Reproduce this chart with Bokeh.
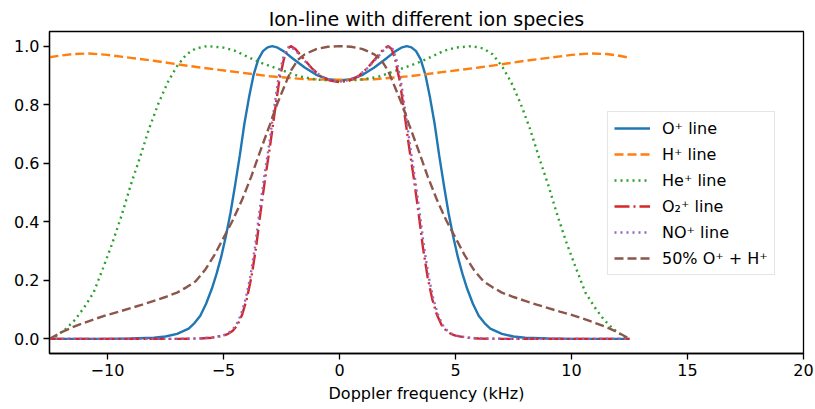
from bokeh.plotting import figure
from bokeh.models import Range1d, FixedTicker, PrintfTickFormatter, CustomJSTickFormatter
from bokeh.embed import file_html
from bokeh.resources import INLINE

# ---- data (Doppler frequency in kHz, normalised power) ----
o_freq = [-12.5, -10.0, -9.0, -8.0, -7.5, -7.0, -6.5, -6.25, -6.0, -5.75, -5.5, -5.3, -5.1, -4.9, -4.7,
          -4.5, -4.3, -4.1, -3.9, -3.7, -3.5, -3.3, -3.1, -2.9, -2.7, -2.4, -2.0, -1.5, -1.0, -0.5,
          0.0,
          0.5, 1.0, 1.5, 2.0, 2.4, 2.7, 2.9, 3.1, 3.3, 3.5, 3.7, 3.9, 4.1, 4.3, 4.5,
          4.7, 4.9, 5.1, 5.3, 5.5, 5.75, 6.0, 6.25, 6.5, 7.0, 7.5, 8.0, 9.0, 10.0, 12.5]
o_vals = [0.0, 0.0, 0.001, 0.004, 0.008, 0.017, 0.035, 0.054, 0.079, 0.12, 0.172, 0.222, 0.28, 0.35, 0.43,
          0.525, 0.625, 0.735, 0.825, 0.903, 0.955, 0.983, 0.996, 1.0, 0.996, 0.982, 0.957, 0.927, 0.902, 0.887,
          0.883,
          0.887, 0.902, 0.927, 0.957, 0.982, 0.996, 1.0, 0.996, 0.983, 0.955, 0.903, 0.825, 0.735, 0.625, 0.525,
          0.43, 0.35, 0.28, 0.222, 0.172, 0.12, 0.079, 0.054, 0.035, 0.017, 0.008, 0.004, 0.001, 0.0, 0.0]

h_freq = [-12.5, -12.0, -11.5, -10.8, -10.0, -9.0, -8.0, -7.0, -6.0, -4.5, -3.0, -1.5,
          0.0,
          1.5, 3.0, 4.5, 6.0, 7.0, 8.0, 9.0, 10.0, 10.8, 11.5, 12.0, 12.5]
h_vals = [0.962, 0.968, 0.973, 0.975, 0.97, 0.96, 0.95, 0.938, 0.927, 0.912, 0.897, 0.887,
          0.885,
          0.887, 0.897, 0.912, 0.927, 0.938, 0.95, 0.96, 0.97, 0.975, 0.973, 0.968, 0.96]

he_freq = [-12.5, -12.2, -11.8, -11.4, -11.0, -10.6, -10.2, -9.8, -9.4, -9.0, -8.6, -8.2, -7.8,
           -7.4, -7.0, -6.6, -6.2, -5.7, -5.0, -4.5, -4.0, -3.5, -3.0, -2.5, -1.75, -1.0,
           0.0,
           1.0, 1.75, 2.5, 3.0, 3.5, 4.0, 4.5, 5.0, 5.7, 6.2, 6.6, 7.0, 7.4,
           7.8, 8.2, 8.6, 9.0, 9.4, 9.8, 10.2, 10.6, 11.0, 11.4, 11.8, 12.2, 12.5]
he_vals = [0.0, 0.01, 0.034, 0.065, 0.108, 0.158, 0.24, 0.325, 0.42, 0.525, 0.62, 0.72, 0.805,
           0.877, 0.932, 0.972, 0.992, 1.0, 0.995, 0.984, 0.965, 0.947, 0.932, 0.918, 0.897, 0.886,
           0.88,
           0.886, 0.897, 0.918, 0.932, 0.947, 0.965, 0.984, 0.995, 1.0, 0.992, 0.972, 0.932, 0.877,
           0.805, 0.72, 0.62, 0.525, 0.42, 0.325, 0.24, 0.158, 0.108, 0.065, 0.034, 0.01, 0.0]

o2_freq = [-12.5, -7.0, -6.0, -5.5, -5.0, -4.8, -4.6, -4.4, -4.2, -4.0, -3.8, -3.6, -3.4,
           -3.2, -3.0, -2.8, -2.6, -2.4, -2.25, -2.1, -1.9, -1.6, -1.2, -0.8, -0.4,
           0.0,
           0.4, 0.8, 1.2, 1.6, 1.9, 2.1, 2.25, 2.4, 2.6, 2.8, 3.0, 3.2, 3.4,
           3.6, 3.8, 4.0, 4.2, 4.4, 4.6, 4.8, 5.0, 5.5, 6.0, 7.0, 12.5]
o2_vals = [0.0, 0.0, 0.001, 0.004, 0.011, 0.017, 0.028, 0.047, 0.082, 0.135, 0.21, 0.31, 0.435,
           0.55, 0.655, 0.77, 0.88, 0.955, 0.99, 1.0, 0.99, 0.962, 0.925, 0.896, 0.882,
           0.877,
           0.882, 0.896, 0.925, 0.962, 0.99, 1.0, 0.99, 0.955, 0.88, 0.77, 0.655, 0.55, 0.435,
           0.31, 0.21, 0.135, 0.082, 0.047, 0.028, 0.017, 0.011, 0.004, 0.001, 0.0, 0.0]

no_freq = [-12.5, -7.0, -6.0, -5.5, -5.05, -4.85, -4.65, -4.45, -4.25, -4.05, -3.85, -3.65, -3.45,
           -3.25, -3.05, -2.85, -2.65, -2.45, -2.3, -2.15, -1.9, -1.6, -1.2, -0.8, -0.4,
           0.0,
           0.4, 0.8, 1.2, 1.6, 1.9, 2.15, 2.3, 2.45, 2.65, 2.85, 3.05, 3.25, 3.45,
           3.65, 3.85, 4.05, 4.25, 4.45, 4.65, 4.85, 5.05, 5.5, 6.0, 7.0, 12.5]
no_vals = [0.0, 0.0, 0.002, 0.005, 0.011, 0.017, 0.028, 0.047, 0.082, 0.135, 0.21, 0.31, 0.435,
           0.55, 0.655, 0.77, 0.88, 0.955, 0.99, 1.0, 0.986, 0.958, 0.925, 0.898, 0.884,
           0.879,
           0.884, 0.898, 0.925, 0.958, 0.986, 1.0, 0.99, 0.955, 0.88, 0.77, 0.655, 0.55, 0.435,
           0.31, 0.21, 0.135, 0.082, 0.047, 0.028, 0.017, 0.011, 0.005, 0.002, 0.0, 0.0]

mix_freq = [-12.5, -12.0, -11.5, -11.0, -10.5, -10.0, -9.5, -9.0, -8.5, -8.0, -7.5, -7.0, -6.6,
            -6.2, -5.8, -5.4, -5.0, -4.6, -4.2, -3.8, -3.4, -3.0, -2.7, -2.4, -2.1, -1.8, -1.5,
            -1.0, -0.5,
            0.0,
            0.5, 1.0, 1.5, 1.8, 2.1, 2.4, 2.7, 3.0, 3.4, 3.8, 4.2, 4.6, 5.0, 5.4, 5.8,
            6.2, 6.6, 7.0, 7.5, 8.0, 8.5, 9.0, 9.5, 10.0, 10.5, 11.0, 11.5, 12.0, 12.5]
mix_vals = [0.0, 0.022, 0.04, 0.055, 0.069, 0.082, 0.093, 0.105, 0.117, 0.13, 0.143, 0.158, 0.176,
            0.197, 0.235, 0.285, 0.345, 0.405, 0.475, 0.555, 0.645, 0.732, 0.8, 0.858, 0.915, 0.953, 0.972,
            0.99, 0.998,
            1.0,
            0.998, 0.99, 0.972, 0.953, 0.915, 0.858, 0.8, 0.732, 0.645, 0.555, 0.475, 0.405, 0.345, 0.285, 0.235,
            0.197, 0.176, 0.158, 0.143, 0.13, 0.117, 0.105, 0.093, 0.082, 0.069, 0.055, 0.04, 0.022, 0.0]

labels = ["O\u207a line", "H\u207a line", "He\u207a line", "O\u2082\u207a line", "NO\u207a line",
          "50% O\u207a + H\u207a"]
x_ticks = [-10, -5, 0, 5, 10, 15, 20]
y_ticks = [0.0, 0.2, 0.4, 0.6, 0.8, 1.0]

FONT = "DejaVu Sans"

p = figure(width=815, height=409, output_backend="svg", toolbar_location=None,
           x_range=Range1d(-12.5, 20), y_range=Range1d(-0.05, 1.05),
           title="Ion-line with different ion species",
           min_border_left=49, min_border_right=12, min_border_top=31, min_border_bottom=56)

p.title.align = "center"
p.title.text_font = FONT
p.title.text_font_size = "19px"
p.title.text_font_style = "normal"
p.title.text_color = "black"
p.title.standoff = 4

p.grid.visible = False
p.outline_line_color = "black"
p.outline_line_width = 1.3
p.background_fill_color = "white"
p.border_fill_color = "white"

for ax in (p.xaxis[0], p.yaxis[0]):
    ax.axis_line_width = 1.3
    ax.axis_line_color = "black"
    ax.major_tick_line_width = 1.3
    ax.major_tick_line_color = "black"
    ax.major_tick_out = 6
    ax.major_tick_in = 0
    ax.minor_tick_out = 0
    ax.minor_tick_in = 0
    ax.major_label_text_font = FONT
    ax.major_label_text_font_size = "16px"
    ax.major_label_text_color = "black"
    ax.major_label_standoff = 4
    ax.axis_label_text_font = FONT
    ax.axis_label_text_font_size = "16px"
    ax.axis_label_text_font_style = "normal"
    ax.axis_label_text_color = "black"

p.xaxis[0].ticker = FixedTicker(ticks=x_ticks)
p.yaxis[0].ticker = FixedTicker(ticks=y_ticks)
p.yaxis[0].formatter = PrintfTickFormatter(format="%.1f")
p.xaxis[0].formatter = CustomJSTickFormatter(
    code="return tick < 0 ? '\\u2212' + Math.abs(tick).toString() : tick.toString();")
p.xaxis[0].axis_label = "Doppler frequency (kHz)"
p.xaxis[0].axis_label_standoff = 5

LW = 2.4
p.line(o_freq, o_vals, line_color="#1f77b4", line_width=LW, legend_label=labels[0])
p.line(h_freq, h_vals, line_color="#ff7f0e", line_width=LW, line_dash="9 4", legend_label=labels[1])
p.line(he_freq, he_vals, line_color="#2ca02c", line_width=LW, line_dash="2 4", legend_label=labels[2])
p.line(o2_freq, o2_vals, line_color="#d62728", line_width=LW, line_dash="15 4 2 4", legend_label=labels[3])
p.line(no_freq, no_vals, line_color="#9467bd", line_width=LW, line_dash="2 4", legend_label=labels[4])
p.line(mix_freq, mix_vals, line_color="#8c564b", line_width=LW, line_dash="9 4", legend_label=labels[5])

lg = p.legend[0]
lg.location = (558, 78)
lg.label_text_font = FONT
lg.label_text_font_size = "16px"
lg.label_text_color = "black"
lg.glyph_width = 36
lg.glyph_height = 20
lg.label_height = 20
lg.label_standoff = 12
lg.spacing = 6
lg.padding = 6
lg.margin = 0
lg.border_line_color = "#cccccc"
lg.border_line_width = 1
lg.background_fill_alpha = 0.8

open("out.html", "w").write(file_html(p, INLINE))
